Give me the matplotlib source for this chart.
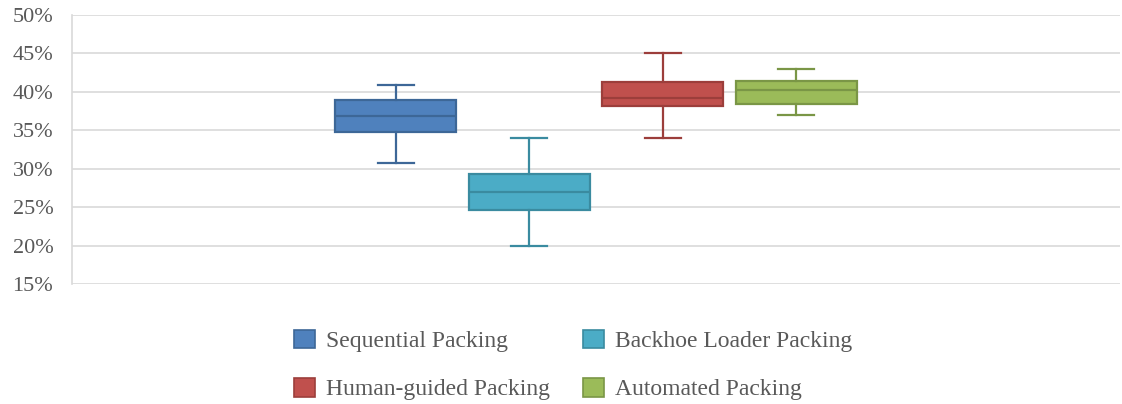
import matplotlib
matplotlib.use("Agg")
import matplotlib.pyplot as plt
from matplotlib.patches import Patch
from matplotlib.ticker import FuncFormatter

series = ["Sequential Packing", "Backhoe Loader Packing", "Human-guided Packing", "Automated Packing"]
whislo = [30.8, 19.9, 34.0, 37.0]
q1 = [34.8, 24.6, 38.1, 38.45]
med = [36.85, 27.0, 39.25, 40.25]
q3 = [38.9, 29.25, 41.25, 41.35]
whishi = [40.9, 34.05, 45.1, 43.0]
yticks = [15, 20, 25, 30, 35, 40, 45, 50]

fills = ["#4F81BD", "#4BACC6", "#C0504D", "#9BBB59"]
edges = ["#3D6797", "#3A8BA0", "#9C3E3B", "#7A9646"]

plt.rcParams['font.family'] = ['Liberation Serif', 'DejaVu Serif']

fig = plt.figure(figsize=(11.22, 4.04), dpi=100)
ax = fig.add_axes([72/1122, 1-284/404, 1-72/1122 - 2/1122, (284-15)/404])

stats = []
for i, s in enumerate(series):
    stats.append(dict(label=s, whislo=whislo[i], q1=q1[i], med=med[i], q3=q3[i], whishi=whishi[i], fliers=[]))

positions = list(range(len(series)))
for i in range(len(series)):
    ax.bxp([stats[i]], positions=[positions[i]], widths=0.91, patch_artist=True,
           showfliers=False, manage_ticks=False,
           boxprops=dict(facecolor=fills[i], edgecolor=edges[i], linewidth=1.6),
           medianprops=dict(color=edges[i], linewidth=1.6),
           whiskerprops=dict(color=edges[i], linewidth=1.6),
           capprops=dict(color=edges[i], linewidth=1.6),
           capwidths=0.27, zorder=3)

ax.set_xlim(1.5 - 3.925, 1.5 + 3.925)
ax.set_ylim(15, 50)
ax.set_yticks(yticks)
ax.yaxis.set_major_formatter(FuncFormatter(lambda v, p: f"{int(v)}%"))
ax.set_xticks([])
ax.grid(axis='y', color='#D9D9D9', linewidth=1.2, zorder=0)
ax.set_axisbelow(True)
for side in ['top', 'right', 'bottom']:
    ax.spines[side].set_visible(False)
ax.spines['left'].set_color('#D9D9D9')
ax.spines['left'].set_linewidth(1.2)
ax.tick_params(axis='y', length=0, pad=13.5, labelsize=16, labelcolor='#595959')

handles = [Patch(facecolor=fills[i], edgecolor=edges[i], linewidth=1.2, label=series[i]) for i in range(len(series))]
order = [0, 2, 1, 3]
fig.legend(handles=[handles[k] for k in order], ncol=2, loc='center', bbox_to_anchor=(573/1122, 1-365/404),
           frameon=False, fontsize=17, labelcolor='#595959',
           handlelength=0.89, handleheight=0.85, handletextpad=0.47,
           columnspacing=1.4, labelspacing=1.08)

fig.savefig("out.png", dpi=100)
